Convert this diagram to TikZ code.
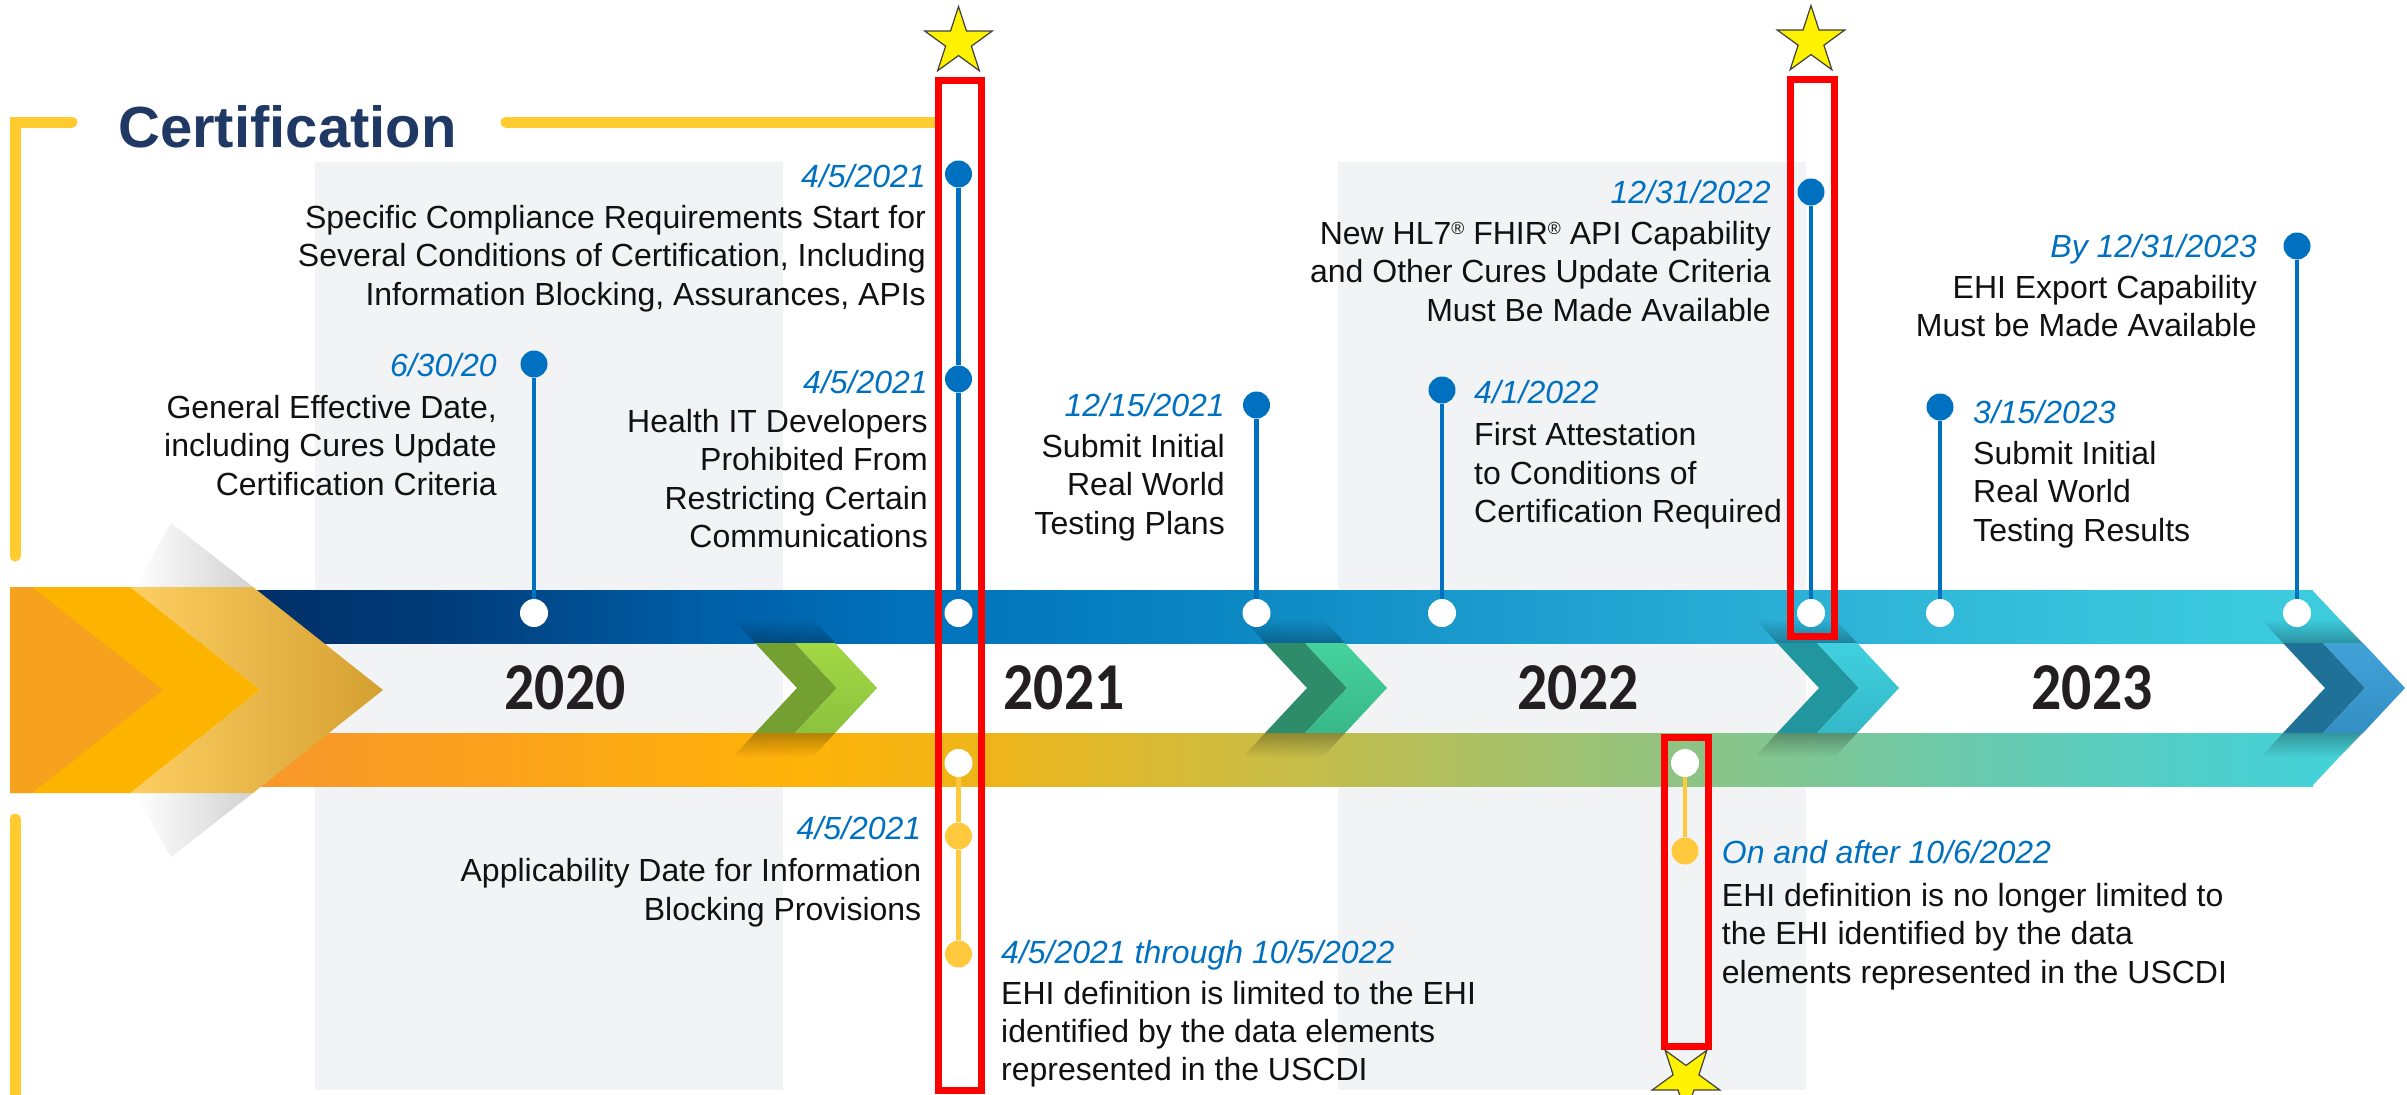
\documentclass[tikz,border=0pt]{standalone}
\usepackage{fontspec}
\setmainfont{Liberation Sans}
\newfontfamily\yearfont{Carlito}
\usetikzlibrary{shapes.geometric,fadings}
\definecolor{tlblue}{HTML}{0070C0}
\definecolor{tlyellow}{HTML}{FFC83D}
\definecolor{brk}{HTML}{FFCB2F}
\definecolor{titleblue}{HTML}{1F3864}
\definecolor{panelgray}{HTML}{F2F3F5}
\definecolor{yeardark}{HTML}{231F20}
\definecolor{txtdark}{HTML}{111111}
\definecolor{bb0}{HTML}{002B63}
\definecolor{bb1}{HTML}{003D7A}
\definecolor{bb2}{HTML}{005EA6}
\definecolor{bb3}{HTML}{0071BA}
\definecolor{bb4}{HTML}{0A85C2}
\definecolor{bb5}{HTML}{1C9CCE}
\definecolor{bb6}{HTML}{2BB0D6}
\definecolor{bb7}{HTML}{37C3DC}
\definecolor{bb8}{HTML}{3DCCDE}
\definecolor{ob0}{HTML}{F7952F}
\definecolor{ob1}{HTML}{FAA21C}
\definecolor{ob2}{HTML}{FEB308}
\definecolor{ob3}{HTML}{EDB51C}
\definecolor{ob4}{HTML}{D3BB3A}
\definecolor{ob5}{HTML}{A9C067}
\definecolor{ob6}{HTML}{8CC486}
\definecolor{ob7}{HTML}{6DCAAA}
\definecolor{ob8}{HTML}{55CEC4}
\definecolor{ob9}{HTML}{45D1D8}
\definecolor{cgD}{HTML}{74A032}
\definecolor{cgL}{HTML}{8CC23D}
\definecolor{cgT}{HTML}{A2D843}
\definecolor{ctD}{HTML}{2E8C6A}
\definecolor{ctL}{HTML}{38B88A}
\definecolor{ctT}{HTML}{45D29C}
\definecolor{ccD}{HTML}{22969F}
\definecolor{ccL}{HTML}{33B8C8}
\definecolor{ccT}{HTML}{3FD0DF}
\definecolor{cbD}{HTML}{1F7198}
\definecolor{cbL}{HTML}{338FC4}
\definecolor{cbT}{HTML}{42A2D8}
\definecolor{arrA}{HTML}{F6A21F}
\definecolor{arrB}{HTML}{FDB400}
\definecolor{arrCa}{HTML}{FDCE62}
\definecolor{arrCb}{HTML}{FDC443}
\definecolor{arrCc}{HTML}{D4A030}
\newcommand\regmark{\raisebox{0.31em}{\scalebox{0.55}{®}}}
\tikzset{
  txt/.style={font=\fontsize{32}{38.4}\selectfont, inner sep=0pt, text=txtdark},
  datetxt/.style={font=\fontsize{32}{38.4}\selectfont\itshape, inner sep=0pt, text=tlblue},
  bluedot/.style={circle, fill=tlblue, minimum size=27, inner sep=0pt},
  whitedot/.style={circle, fill=white, minimum size=28, inner sep=0pt},
  yeldot/.style={circle, fill=tlyellow, minimum size=27, inner sep=0pt},
  bluestem/.style={draw=tlblue, line width=4.5},
  yelstem/.style={draw=tlyellow, line width=4.5},
  redbox/.style={draw=red, line width=7},
  bracketline/.style={draw=brk, line width=11, line cap=round, line join=miter},
  goldstar/.style={star, star points=5, star point ratio=2.618, minimum size=71, inner sep=0pt, fill=yellow, draw=black!75, line width=1.2},
  yeartxt/.style={font=\yearfont\bfseries\fontsize{67}{70}\selectfont, text=yeardark, inner sep=0pt},
}
\begin{document}
\begin{tikzpicture}[x=1pt,y=-1pt]
\useasboundingbox (0,0) rectangle (2407,1095);
\clip (0,0) rectangle (2407,1095);
\fill[white] (0,0) rectangle (2407,1095);
% gray panels
\fill[panelgray] (315,162) rectangle (783,1090);
\fill[panelgray] (1338,162) rectangle (1806,1090);
% bracket
\draw[bracketline] (72,122) -- (15,122) -- (15,556);
\draw[bracketline] (506,122) -- (935,122);
\draw[bracketline] (15,819) -- (15,1105);
\node[font=\bfseries\fontsize{58}{60}\selectfont, text=titleblue, anchor=base west, inner sep=0pt] (title) at (118,147) {Certification};
% top band
\foreach \a/\b/\ca/\cb in {200/450/bb0/bb1, 450/700/bb1/bb2, 700/900/bb2/bb3, 900/1200/bb3/bb4, 1200/1500/bb4/bb5, 1500/1800/bb5/bb6, 1800/2100/bb6/bb7, 2100/2312/bb7/bb8}
  \shade[left color=\ca, right color=\cb] (\a,590) rectangle ({\b+1},643);
\fill[bb8] (2311,590) -- (2312,590) -- (2362,643) -- (2311,643) -- cycle;
% bottom band
\foreach \a/\b/\ca/\cb in {200/500/ob0/ob1, 500/800/ob1/ob2, 800/1000/ob2/ob3, 1000/1200/ob3/ob4, 1200/1500/ob4/ob5, 1500/1700/ob5/ob6, 1700/1950/ob6/ob7, 1950/2150/ob7/ob8, 2150/2312/ob8/ob9}
  \shade[left color=\ca, right color=\cb] (\a,733) rectangle ({\b+1},786);
\fill[ob9] (2311,733) -- (2362,733) -- (2312,786) -- (2311,786) -- cycle;
% chevrons
\foreach \x/\dk/\lt/\tp in {755/cgD/cgL/cgT, 1265/ctD/ctL/ctT, 1777/ccD/ccL/ccT, 2283/cbD/cbL/cbT} {
  \fill[black, opacity=0.28, path fading=north] ({\x-22},619) -- ({\x+58},619) -- ({\x+80},643) -- (\x,643) -- cycle;
  \fill[black, opacity=0.28, path fading=south] (\x,733) -- ({\x+80},733) -- ({\x+58},757) -- ({\x-22},757) -- cycle;
  \fill[\dk] (\x,643) -- ({\x+40},643) -- ({\x+82},688) -- ({\x+40},733) -- (\x,733) -- ({\x+42},688) -- cycle;
  \shade[top color=\tp, bottom color=\lt] ({\x+40},643) -- ({\x+80},643) -- ({\x+122},688) -- ({\x+80},733) -- ({\x+40},733) -- ({\x+82},688) -- cycle;
}
% left arrow
\shade[left color=white, right color=black!18] (135,587) -- (171,523) -- (253,587) -- cycle;
\shade[left color=white, right color=black!18] (135,793) -- (171,857) -- (253,793) -- cycle;
\shade[left color=arrCa, middle color=arrCb, right color=arrCc] (130,587) -- (253,587) -- (383,690) -- (253,793) -- (130,793) -- (260,690) -- cycle;
\fill[arrB] (10,587) -- (130,587) -- (260,690) -- (130,793) -- (10,793) -- cycle;
\fill[arrA] (10,587) -- (32,587) -- (163,690) -- (32,793) -- (10,793) -- cycle;
% years
\node[yeartxt] (y2020) at (565,688) {\scalebox{0.89}[1]{2020}};
\node[yeartxt] (y2021) at (1064,688) {\scalebox{0.89}[1]{2021}};
\node[yeartxt] (y2022) at (1578,688) {\scalebox{0.89}[1]{2022}};
\node[yeartxt] (y2023) at (2092,688) {\scalebox{0.89}[1]{2023}};
% top markers
\node[bluedot] (d1) at (534,364) {};
\node[whitedot] (w1) at (534,613) {};
\draw[bluestem] (d1) -- (w1);
\node[bluedot] (d2a) at (958.5,174) {};
\node[bluedot] (d2b) at (958.5,379) {};
\node[whitedot] (w2) at (958.5,613) {};
\draw[bluestem] (d2a) -- (d2b);
\draw[bluestem] (d2b) -- (w2);
\node[bluedot] (d3) at (1256.5,405) {};
\node[whitedot] (w3) at (1256.5,613) {};
\draw[bluestem] (d3) -- (w3);
\node[bluedot] (d4) at (1442,390) {};
\node[whitedot] (w4) at (1442,613) {};
\draw[bluestem] (d4) -- (w4);
\node[bluedot] (d5) at (1811,192) {};
\node[whitedot] (w5) at (1811,613) {};
\draw[bluestem] (d5) -- (w5);
\node[bluedot] (d6) at (1940,407) {};
\node[whitedot] (w6) at (1940,613) {};
\draw[bluestem] (d6) -- (w6);
\node[bluedot] (d7) at (2297,246) {};
\node[whitedot] (w7) at (2297,613) {};
\draw[bluestem] (d7) -- (w7);
% bottom markers
\node[whitedot] (wb1) at (958.5,763) {};
\node[yeldot] (yb1a) at (958.5,836) {};
\node[yeldot] (yb1b) at (958.5,954) {};
\draw[yelstem] (wb1) -- (yb1a);
\draw[yelstem] (yb1a) -- (yb1b);
\node[whitedot] (wb2) at (1685,763) {};
\node[yeldot] (yb2) at (1685,851) {};
\draw[yelstem] (wb2) -- (yb2);
% texts top
\node[datetxt, anchor=base east] (t1d) at (497,376) {6/30/20};
\node[txt, anchor=north east, align=right] (t1) at (497,395) {General Effective Date,\\including Cures Update\\Certification Criteria};
\node[datetxt, anchor=base east] (t2d) at (926,187) {4/5/2021};
\node[txt, anchor=north east, align=right] (t2) at (926,205) {Specific Compliance Requirements Start for\\Several Conditions of Certification, Including\\Information Blocking, Assurances, APIs};
\node[datetxt, anchor=base east] (t3d) at (928,393) {4/5/2021};
\node[txt, anchor=north east, align=right] (t3) at (928,409) {Health IT Developers\\Prohibited From\\Restricting Certain\\Communications};
\node[datetxt, anchor=base east] (t4d) at (1225,416) {12/15/2021};
\node[txt, anchor=north east, align=right] (t4) at (1225,434) {Submit Initial\\Real World\\Testing Plans};
\node[datetxt, anchor=base west] (t5d) at (1474,403) {4/1/2022};
\node[txt, anchor=north west, align=left] (t5) at (1474,422.5) {First Attestation\\to Conditions of\\Certification Required};
\node[datetxt, anchor=base east] (t6d) at (1771,203) {12/31/2022};
\node[txt, anchor=north east, align=right] (t6) at (1771,221) {New HL7\regmark{} FHIR\regmark{} API Capability\\and Other Cures Update Criteria\\Must Be Made Available};
\node[datetxt, anchor=base east] (t7d) at (2257,257) {By 12/31/2023};
\node[txt, anchor=north east, align=right] (t7) at (2257,275) {EHI Export Capability\\Must be Made Available};
\node[datetxt, anchor=base west] (t8d) at (1973,423) {3/15/2023};
\node[txt, anchor=north west, align=left] (t8) at (1973,441) {Submit Initial\\Real World\\Testing Results};
% texts bottom
\node[datetxt, anchor=base east] (t9d) at (921.5,839) {4/5/2021};
\node[txt, anchor=north east, align=right] (t9) at (921.5,858.6) {Applicability Date for Information\\Blocking Provisions};
\node[datetxt, anchor=base west] (t10d) at (1001,963) {4/5/2021 through 10/5/2022};
\node[txt, anchor=north west, align=left] (t10) at (1001,980.7) {EHI definition is limited to the EHI\\identified by the data elements\\represented in the USCDI};
\node[datetxt, anchor=base west] (t11d) at (1721.7,863) {On and after 10/6/2022};
\node[txt, anchor=north west, align=left] (t11) at (1721.7,883) {EHI definition is no longer limited to\\the EHI identified by the data\\elements represented in the USCDI};
% red boxes
\draw[redbox] (938,80) rectangle (981,1090);
\draw[redbox] (1790,79) rectangle (1834,636);
\draw[redbox] (1664,737) rectangle (1708,1046);
% stars
\node[goldstar] (starA) at (958.5,42) {};
\node[goldstar] (starB) at (1811,41) {};
\node[goldstar, shape border rotate=180] (starC) at (1686,1079) {};
\end{tikzpicture}
\end{document}
